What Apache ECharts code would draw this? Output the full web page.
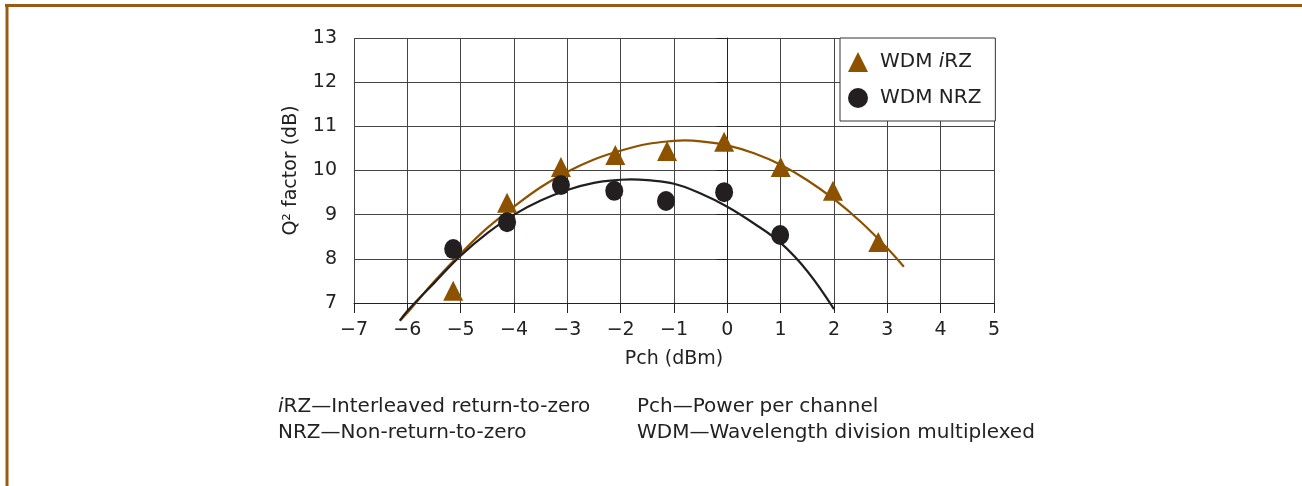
<!DOCTYPE html>
<html>
<head>
<meta charset="utf-8">
<script src="https://cdn.jsdelivr.net/npm/echarts@6/dist/echarts.min.js"></script>
<style>html,body{margin:0;padding:0;background:#fff}#c{width:1302px;height:486px}</style>
</head>
<body>
<div id="c"></div>
<script>
// Axis ticks
const xTicks = [-7, -6, -5, -4, -3, -2, -1, 0, 1, 2, 3, 4, 5];
const yTicks = [7, 8, 9, 10, 11, 12, 13];

// Measured points
const irzX = [-5.14, -4.13, -3.12, -2.1, -1.13, -0.06, 1.0, 1.98, 2.83];
const irzY = [7.28, 9.27, 10.08, 10.35, 10.44, 10.65, 10.08, 9.54, 8.38];
const nrzX = [-5.14, -4.13, -3.12, -2.12, -1.15, -0.06, 0.99];
const nrzY = [8.22, 8.83, 9.67, 9.54, 9.31, 9.51, 8.54];

// Fitted curves
const irzFitX = [-6.14, -6.0, -5.5, -5.0, -4.5, -4.0, -3.5, -3.0, -2.5, -2.0, -1.5, -1.0, -0.8, -0.5, 0.0, 0.5, 1.0, 1.5, 2.0, 2.5, 3.0, 3.31];
const irzFitY = [6.6, 6.78, 7.48, 8.12, 8.7, 9.18, 9.62, 9.97, 10.25, 10.45, 10.6, 10.67, 10.68, 10.66, 10.57, 10.39, 10.13, 9.78, 9.35, 8.84, 8.24, 7.82];
const nrzFitX = [-6.14, -6.0, -5.5, -5.0, -4.5, -4.0, -3.5, -3.0, -2.5, -2.0, -1.8, -1.5, -1.0, -0.5, 0.0, 0.5, 1.0, 1.5, 2.0];
const nrzFitY = [6.6, 6.82, 7.45, 8.07, 8.58, 9.0, 9.32, 9.56, 9.72, 9.79, 9.8, 9.78, 9.7, 9.48, 9.18, 8.8, 8.36, 7.72, 6.86];

const brown = '#8c5200';
const black = '#231f20';
const fontFam = '"DejaVu Sans", "Noto Sans", sans-serif';

const zip = (a, b) => a.map((v, i) => [v, b[i]]);

const chart = echarts.init(document.getElementById('c'));
chart.setOption({
  animation: false,
  backgroundColor: '#fff',
  textStyle: { fontFamily: fontFam, color: '#222' },
  grid: { left: 354, top: 38, width: 640, height: 265, containLabel: false },
  xAxis: {
    type: 'value', min: xTicks[0], max: xTicks[xTicks.length - 1], interval: 1,
    name: 'Pch (dBm)', nameLocation: 'middle', nameGap: 47,
    nameTextStyle: { fontSize: 19, color: '#222', fontFamily: fontFam },
    axisLine: { show: true, onZero: false, lineStyle: { color: '#222', width: 1 } },
    axisTick: { show: true, inside: false, length: 10, lineStyle: { color: '#222' } },
    axisLabel: { fontSize: 19, color: '#222', margin: 18, fontFamily: fontFam, formatter: v => (v < 0 ? '\u2212' + Math.abs(v) : String(v)) },
    splitLine: { show: true, lineStyle: { color: '#444', width: 1 } }
  },
  yAxis: {
    type: 'value', min: yTicks[0], max: yTicks[yTicks.length - 1], interval: 1,
    name: 'Q\u00b2 factor (dB)', nameLocation: 'middle', nameGap: 53, nameRotate: 90,
    nameTextStyle: { fontSize: 19, color: '#222', fontFamily: fontFam },
    axisLine: { show: true, lineStyle: { color: '#222', width: 1 } },
    axisTick: { show: true, inside: false, length: 11, lineStyle: { color: '#222' } },
    axisLabel: { fontSize: 19, color: '#222', margin: 17, fontFamily: fontFam },
    splitLine: { show: true, lineStyle: { color: '#444', width: 1 } }
  },
  legend: {
    data: ['WDM iRZ', 'WDM NRZ'],
    orient: 'vertical', left: 840, top: 38,
    padding: [14, 14, 13, 8], itemGap: 16,
    itemWidth: 20, itemHeight: 20,
    backgroundColor: '#fff', borderColor: '#333', borderWidth: 1, borderRadius: 0,
    formatter: n => (n === 'WDM iRZ' ? 'WDM {it|i}RZ' : n),
    textStyle: { fontSize: 20, color: '#222', fontFamily: fontFam, padding: [0, 0, 0, 7],
      rich: { it: { fontSize: 20, fontStyle: 'italic', color: '#222', fontFamily: fontFam } } }
  },
  series: [
    { name: 'iRZ fit', type: 'line', data: zip(irzFitX, irzFitY), smooth: 0.4, showSymbol: false, clip: false,
      lineStyle: { color: brown, width: 2.2 }, z: 2, silent: true },
    { name: 'NRZ fit', type: 'line', data: zip(nrzFitX, nrzFitY), smooth: 0.4, showSymbol: false, clip: false,
      lineStyle: { color: black, width: 2.2 }, z: 2, silent: true },
    { name: 'WDM iRZ', type: 'scatter', symbol: 'triangle', symbolSize: [20, 20], data: zip(irzX, irzY),
      itemStyle: { color: brown, opacity: 1 }, z: 3 },
    { name: 'WDM NRZ', type: 'scatter', symbol: 'circle', symbolSize: [18, 20], data: zip(nrzX, nrzY),
      itemStyle: { color: black, opacity: 1 }, z: 3 }
  ],
  graphic: [
    { type: 'line', shape: { x1: 5, y1: 5.5, x2: 1302, y2: 5.5 }, style: { stroke: '#9a5a14', lineWidth: 3 } },
    { type: 'line', shape: { x1: 7, y1: 4, x2: 7, y2: 486 }, style: { stroke: '#9a5a14', lineWidth: 3 } },
    { type: 'text', left: 278, top: 397, style: { text: '{it|i}RZ\u2014Interleaved return-to-zero', fontSize: 20, fill: '#222', fontFamily: fontFam,
      rich: { it: { fontStyle: 'italic', fontSize: 20, fill: '#222', fontFamily: fontFam } } } },
    { type: 'text', left: 278, top: 423, style: { text: 'NRZ\u2014Non-return-to-zero', fontSize: 20, fill: '#222', fontFamily: fontFam } },
    { type: 'text', left: 637, top: 397, style: { text: 'Pch\u2014Power per channel', fontSize: 20, fill: '#222', fontFamily: fontFam } },
    { type: 'text', left: 637, top: 423, style: { text: 'WDM\u2014Wavelength division multiplexed', fontSize: 20, fill: '#222', fontFamily: fontFam } }
  ]
});
</script>
</body>
</html>
